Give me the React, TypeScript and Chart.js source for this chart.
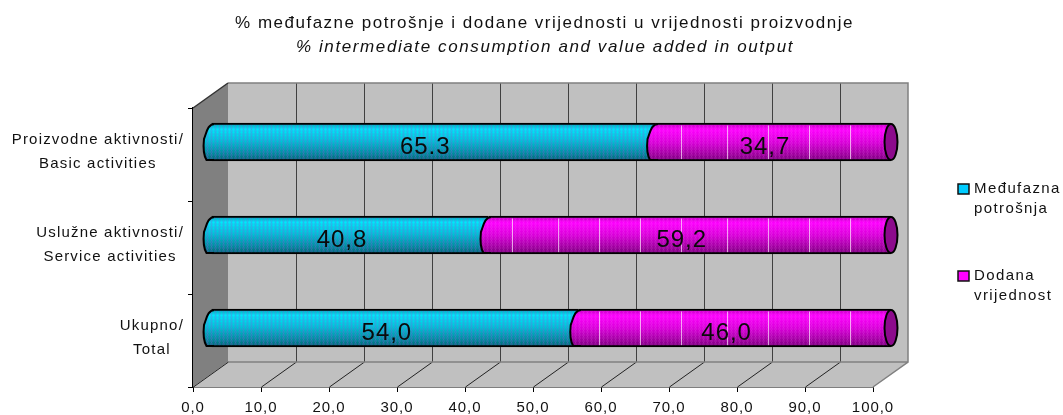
import React, { useEffect, useRef } from "react";
import { Chart, registerables } from "chart.js";

Chart.register(...registerables);

const categories = [
  ["Proizvodne aktivnosti/", "Basic activities"],
  ["Uslužne aktivnosti/", "Service activities"],
  ["Ukupno/", "Total"],
];
const intermediate = [65.3, 40.8, 54.0];
const valueAdded = [34.7, 59.2, 46.0];
const intermediateLabels = ["65.3", "40,8", "54,0"];
const valueAddedLabels = ["34,7", "59,2", "46,0"];
const legendIntermediate = ["Međufazna", "potrošnja"];
const legendValueAdded = ["Dodana", "vrijednost"];
const titleLine1 = "% međufazne potrošnje i dodane vrijednosti u vrijednosti proizvodnje";
const titleLine2 = "% intermediate consumption and value added in output";

const FONT = '"Liberation Sans", Arial, sans-serif';
const TEXT = "#111111";
const DEPTH_X = 35;
const DEPTH_Y = 25;
const BAR_DX = 18;
const BAR_DY = -12.5;
const BAR_H = 38;

function makeTile(stops: [number, string][], dither: string, lines: number[]) {
  const w = 676;
  const c = document.createElement("canvas");
  c.width = w;
  c.height = BAR_H;
  const g = c.getContext("2d")!;
  const grad = g.createLinearGradient(0, 0, 0, BAR_H);
  stops.forEach(([o, col]) => grad.addColorStop(o, col));
  g.fillStyle = grad;
  g.fillRect(0, 0, w, BAR_H);
  g.fillStyle = dither;
  for (let y = 0; y < BAR_H; y += 1) {
    for (let x = 0; x < w; x += 1) {
      const on = y % 3 === 1 ? x % 2 === 0 : x % 4 === 1;
      if (on) g.fillRect(x, y, 1, 1);
    }
  }
  if (lines.length) {
    g.fillStyle = "rgba(255,235,255,0.7)";
    lines.forEach((l) => {
      for (let k = 0; k < 4; k += 1) {
        const x = (((l - BAR_DX + 169 * k) % w) + w) % w;
        g.fillRect(x, 2, 1, BAR_H - 4);
      }
    });
  }
  return c;
}

function makePattern(chart: any, tile: HTMLCanvasElement, index: number) {
  const y = chart.scales.y.getPixelForValue(index);
  const p = chart.ctx.createPattern(tile, "repeat")!;
  p.setTransform(new DOMMatrix().translate(0, Math.round(y - BAR_H / 2)));
  return p;
}

export default function App() {
  const ref = useRef<HTMLCanvasElement>(null);

  useEffect(() => {
    const cyanTile = makeTile(
      [
        [0, "#00a0b0"],
        [0.14, "#00e8fa"],
        [0.45, "#00c4d8"],
        [0.8, "#008c9c"],
        [1, "#00606c"],
      ],
      "rgba(130,90,220,0.45)",
      []
    );
    const magentaTile = makeTile(
      [
        [0, "#c000c0"],
        [0.16, "#ff00ff"],
        [0.5, "#d800d8"],
        [0.8, "#a000a0"],
        [1, "#740078"],
      ],
      "rgba(255,130,255,0.22)",
      [512, 558, 599, 640]
    );

    const scene = {
      id: "scene",
      beforeDraw(chart: any) {
        chart.ctx.letterSpacing = "0.95px";
      },
      beforeDatasetsDraw(chart: any) {
        const { ctx, chartArea: a, scales } = chart;
        ctx.save();
        ctx.fillStyle = "#c0c0c0";
        ctx.fillRect(a.left + DEPTH_X, a.top - DEPTH_Y, a.width, a.height);
        ctx.beginPath();
        ctx.moveTo(a.left, a.bottom);
        ctx.lineTo(a.right, a.bottom);
        ctx.lineTo(a.right + DEPTH_X, a.bottom - DEPTH_Y);
        ctx.lineTo(a.left + DEPTH_X, a.bottom - DEPTH_Y);
        ctx.closePath();
        ctx.fill();
        ctx.fillStyle = "#808080";
        ctx.beginPath();
        ctx.moveTo(a.left, a.top);
        ctx.lineTo(a.left + DEPTH_X, a.top - DEPTH_Y);
        ctx.lineTo(a.left + DEPTH_X, a.bottom - DEPTH_Y);
        ctx.lineTo(a.left, a.bottom);
        ctx.closePath();
        ctx.fill();

        ctx.lineWidth = 1;
        scales.x.ticks.forEach((t: any) => {
          const x = Math.round(scales.x.getPixelForValue(t.value));
          if (t.value > 0 && t.value < 100) {
            ctx.strokeStyle = "#404040";
            ctx.beginPath();
            ctx.moveTo(x + DEPTH_X + 0.5, a.top - DEPTH_Y);
            ctx.lineTo(x + DEPTH_X + 0.5, a.bottom - DEPTH_Y);
            ctx.stroke();
          }
          if (t.value < 100) {
            ctx.strokeStyle = "#222222";
            ctx.beginPath();
            ctx.moveTo(x + 0.5, a.bottom);
            ctx.lineTo(x + DEPTH_X + 0.5, a.bottom - DEPTH_Y);
            ctx.stroke();
          }
        });

        ctx.strokeStyle = "#808080";
        ctx.lineWidth = 1.5;
        ctx.beginPath();
        ctx.moveTo(a.left + DEPTH_X, a.top - DEPTH_Y);
        ctx.lineTo(a.right + DEPTH_X, a.top - DEPTH_Y);
        ctx.lineTo(a.right + DEPTH_X, a.bottom - DEPTH_Y);
        ctx.lineTo(a.right, a.bottom);
        ctx.moveTo(a.left + DEPTH_X, a.bottom - DEPTH_Y);
        ctx.lineTo(a.right + DEPTH_X, a.bottom - DEPTH_Y);
        ctx.stroke();
        ctx.strokeStyle = "#333333";
        ctx.lineWidth = 1.5;
        ctx.beginPath();
        ctx.moveTo(a.left, a.top);
        ctx.lineTo(a.left + DEPTH_X, a.top - DEPTH_Y);
        ctx.stroke();
        ctx.restore();

        ctx.save();
        ctx.translate(BAR_DX, BAR_DY);
      },
      afterDatasetsDraw(chart: any) {
        const { ctx, scales } = chart;
        const capPath = (x: number, cy: number, ry: number) => {
          ctx.beginPath();
          ctx.moveTo(x + 3, cy - ry);
          ctx.bezierCurveTo(x - 4, cy - ry, x - 5, cy - ry * 0.5, x - 7.5, cy - 3);
          ctx.bezierCurveTo(x - 8.5, cy + 6, x - 8.5, cy + ry - 6, x - 5, cy + ry);
          ctx.lineTo(x + 3, cy + ry);
        };
        const leftCap = (el: any) => {
          const ry = BAR_H / 2 - 1;
          capPath(el.base, el.y, ry);
          ctx.closePath();
          ctx.fillStyle = el.options.backgroundColor;
          ctx.fill();
          capPath(el.base, el.y, ry);
          ctx.strokeStyle = "#000000";
          ctx.lineWidth = 2;
          ctx.stroke();
        };
        [0, 1].forEach((d) => {
          chart.getDatasetMeta(d).data.forEach((el: any) => leftCap(el));
        });
        chart.getDatasetMeta(1).data.forEach((el: any) => {
          ctx.beginPath();
          ctx.ellipse(scales.x.getPixelForValue(100), el.y, 6.5, BAR_H / 2 - 1, 0, 0, Math.PI * 2);
          ctx.fillStyle = "#8c0a8c";
          ctx.fill();
          ctx.strokeStyle = "#000000";
          ctx.lineWidth = 2;
          ctx.stroke();
        });
        ctx.restore();

        // value labels
        ctx.save();
        ctx.font = `24px ${FONT}`;
        ctx.fillStyle = "#0a0a0a";
        ctx.textAlign = "center";
        ctx.textBaseline = "middle";
        const texts = [intermediateLabels, valueAddedLabels];
        [0, 1].forEach((d) => {
          chart.getDatasetMeta(d).data.forEach((el: any, i: number) => {
            ctx.fillText(texts[d][i], (el.base + el.x) / 2 + 10, el.y + BAR_DY + 5);
          });
        });
        ctx.restore();
      },
      afterDraw(chart: any) {
        const { ctx, scales } = chart;
        ctx.save();
        ctx.fillStyle = TEXT;
        ctx.textBaseline = "middle";
        ctx.textAlign = "center";

        // titles
        ctx.letterSpacing = "1.5px";
        ctx.font = `17px ${FONT}`;
        ctx.fillText(titleLine1, 544.5, 23);
        ctx.letterSpacing = "1.6px";
        ctx.font = `italic 17px ${FONT}`;
        ctx.fillText(titleLine2, 545, 47);

        // category labels
        ctx.letterSpacing = "1.2px";
        ctx.font = `15px ${FONT}`;
        categories.forEach((lines, i) => {
          const w = Math.max(...lines.map((l) => ctx.measureText(l).width));
          const cx = 184 - w / 2;
          const cy = scales.y.getPixelForValue(i);
          ctx.fillText(lines[0], cx, cy - 14.5);
          ctx.fillText(lines[1], cx, cy + 9.5);
        });

        // legend
        ctx.letterSpacing = "1.4px";
        const entry = (lines: string[], color: string, top: number) => {
          ctx.fillStyle = color;
          ctx.fillRect(958, top, 11, 10);
          ctx.strokeStyle = "#111111";
          ctx.lineWidth = 1.5;
          ctx.strokeRect(958, top, 11, 10);
          ctx.fillStyle = TEXT;
          ctx.textAlign = "left";
          ctx.fillText(lines[0], 974, top + 5);
          ctx.fillText(lines[1], 974, top + 25);
        };
        entry(legendIntermediate, "#00ccff", 184);
        entry(legendValueAdded, "#ff00ff", 271);
        ctx.restore();
      },
    };

    const chart = new Chart(ref.current!, {
      type: "bar",
      data: {
        labels: categories.map((c) => c.join(" ")),
        datasets: [
          {
            label: "Međufazna potrošnja",
            data: intermediate,
            backgroundColor: (c: any) => makePattern(c.chart, cyanTile, c.dataIndex),
          },
          {
            label: "Dodana vrijednost",
            data: valueAdded,
            backgroundColor: (c: any) => makePattern(c.chart, magentaTile, c.dataIndex),
          },
        ],
      },
      options: {
        indexAxis: "y",
        responsive: false,
        animation: false,
        devicePixelRatio: 1,
        layout: { padding: { top: 108, right: 190, bottom: 0, left: 0 } },
        datasets: {
          bar: {
            barThickness: BAR_H,
            borderColor: "#000000",
            borderWidth: { top: 2, bottom: 2, left: 0, right: 0 },
            borderSkipped: false,
          },
        },
        plugins: {
          legend: { display: false },
          title: { display: false },
          tooltip: { enabled: false },
        },
        scales: {
          x: {
            stacked: true,
            min: 0,
            max: 100,
            afterFit: (s: any) => {
              s.height = 28;
            },
            grid: {
              drawOnChartArea: false,
              drawTicks: true,
              tickLength: 5,
              color: "#000000",
            },
            border: { display: true, color: "#000000", width: 1.5 },
            ticks: {
              stepSize: 10,
              autoSkip: false,
              maxRotation: 0,
              padding: 7,
              color: TEXT,
              font: { family: FONT, size: 15 },
              callback: (v: any) => Number(v).toFixed(1).replace(".", ","),
            },
          },
          y: {
            stacked: true,
            afterFit: (s: any) => {
              s.width = 193;
            },
            grid: {
              drawOnChartArea: false,
              drawTicks: true,
              tickLength: 5,
              offset: true,
              color: "#000000",
            },
            border: { display: true, color: "#000000", width: 1.5 },
            ticks: { display: false },
          },
        },
      } as any,
      plugins: [scene],
    });
    return () => chart.destroy();
  }, []);

  return (
    <canvas
      ref={ref}
      width={1063}
      height={415}
      style={{ position: "absolute", left: 0, top: 0, display: "block" }}
    />
  );
}
